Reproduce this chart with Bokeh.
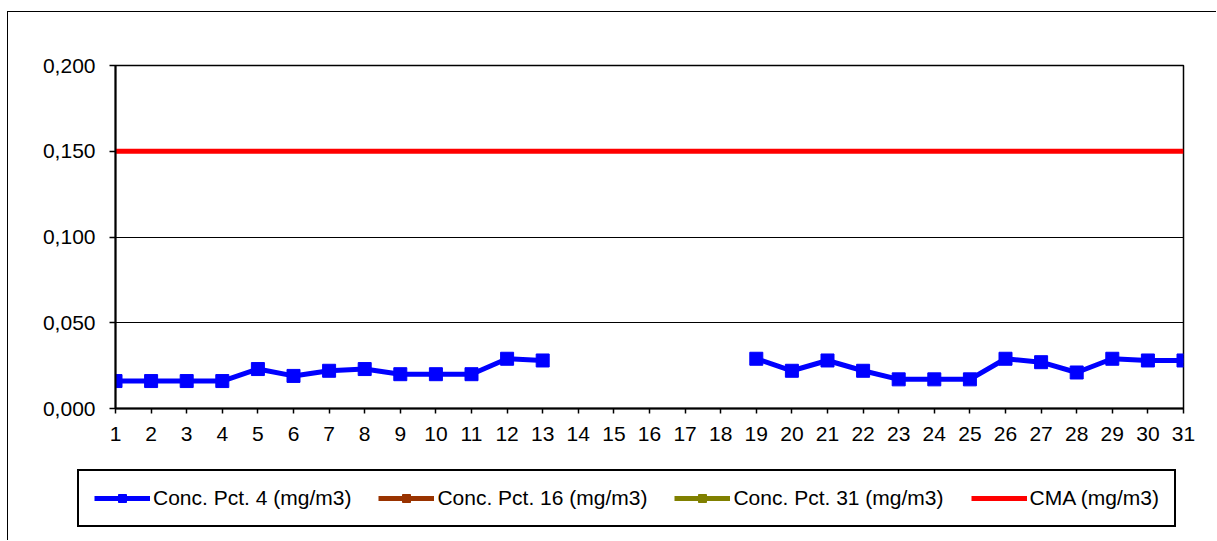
from bokeh.plotting import figure
from bokeh.models import Range1d, FixedTicker, CustomJSTickFormatter, Legend, LegendItem
from bokeh.embed import file_html
from bokeh.resources import INLINE

days = list(range(1, 32))
nan = float("nan")
conc_pct4 = [0.016, 0.016, 0.016, 0.016, 0.023, 0.019, 0.022, 0.023, 0.020, 0.020, 0.020,
             0.029, 0.028, nan, nan, nan, nan, nan, 0.029, 0.022, 0.028, 0.022, 0.017,
             0.017, 0.017, 0.029, 0.027, 0.021, 0.029, 0.028, 0.028]
conc_pct16 = [nan] * 31
conc_pct31 = [nan] * 31
cma = [0.150] * 31
y_ticks = [0.0, 0.05, 0.10, 0.15, 0.20]

FONT = "Liberation Sans"
BLUE, BROWN, OLIVE, RED = "#0000ff", "#993300", "#808000", "#ff0000"

# ---- main chart ----
p = figure(width=1209, height=440, output_backend="svg", toolbar_location=None,
           x_range=Range1d(1, 31), y_range=Range1d(0, 0.2),
           min_border_left=107, min_border_top=53, min_border_right=34, min_border_bottom=44)
p.styles = {"margin-left": "7px", "margin-top": "11px",
            "border-left": "1px solid #000", "border-top": "1px solid #000"}
p.background_fill_color = "white"
p.border_fill_color = "white"
p.outline_line_color = "black"
p.outline_line_width = 1.5

p.xgrid.visible = False
p.ygrid.grid_line_color = "black"
p.ygrid.grid_line_width = 1
p.ygrid.ticker = FixedTicker(ticks=y_ticks)

p.yaxis.ticker = FixedTicker(ticks=y_ticks)
p.yaxis.formatter = CustomJSTickFormatter(code="return tick.toFixed(3).replace('.', ',');")
p.xaxis.ticker = FixedTicker(ticks=days)
for ax in (p.xaxis[0], p.yaxis[0]):
    ax.axis_line_color = "black"
    ax.axis_line_width = 2
    ax.major_tick_line_color = "black"
    ax.major_tick_line_width = 1.5
    ax.major_tick_in = 0
    ax.minor_tick_line_color = None
    ax.major_label_text_font = FONT
    ax.major_label_text_font_size = "21px"
    ax.major_label_text_color = "black"
p.yaxis.major_tick_out = 6
p.yaxis.major_label_standoff = 14
p.xaxis.major_tick_out = 5
p.xaxis.major_label_standoff = 13

p.line(days, cma, line_color=RED, line_width=5)
p.line(days, conc_pct4, line_color=BLUE, line_width=5)
p.scatter(days, conc_pct4, marker="square", size=13, fill_color=BLUE, line_color=BLUE)
p.line(days, conc_pct16, line_color=BROWN, line_width=5)
p.line(days, conc_pct31, line_color=OLIVE, line_width=5)

# ---- legend strip (same series, drawn outside its visible range) ----
pl = figure(width=1209, height=89, output_backend="svg", toolbar_location=None,
            x_range=Range1d(100, 101), y_range=Range1d(100, 101),
            min_border=0)
pl.styles = {"margin-left": "7px", "border-left": "1px solid #000"}
pl.axis.visible = False
pl.grid.visible = False
pl.outline_line_color = None
pl.background_fill_color = "white"
pl.border_fill_color = "white"
l4 = pl.line(days, conc_pct4, line_color=BLUE, line_width=5)
m4 = pl.scatter(days, conc_pct4, marker="square", fill_color=BLUE, line_color=BLUE)
l16 = pl.line(days, conc_pct16, line_color=BROWN, line_width=5)
m16 = pl.scatter(days, conc_pct16, marker="square", fill_color=BROWN, line_color=BROWN)
l31 = pl.line(days, conc_pct31, line_color=OLIVE, line_width=5)
m31 = pl.scatter(days, conc_pct31, marker="square", fill_color=OLIVE, line_color=OLIVE)
lc = pl.line(days, cma, line_color=RED, line_width=5)

legend = Legend(items=[
    LegendItem(label="Conc. Pct. 4 (mg/m3)", renderers=[l4, m4]),
    LegendItem(label="Conc. Pct. 16 (mg/m3)", renderers=[l16, m16]),
    LegendItem(label="Conc. Pct. 31 (mg/m3)", renderers=[l31, m31]),
    LegendItem(label="CMA (mg/m3)", renderers=[lc]),
], orientation="horizontal", location=(69, 13))
legend.label_text_font = FONT
legend.label_text_font_size = "21px"
legend.label_text_color = "black"
legend.glyph_width = 56
legend.glyph_height = 20
legend.label_standoff = 3
legend.spacing = 27
legend.padding = 15
legend.margin = 0
legend.border_line_color = "black"
legend.border_line_alpha = 1
legend.border_line_width = 2
legend.background_fill_alpha = 1
pl.add_layout(legend, "center")

open("out.html", "w").write(file_html([p, pl], INLINE))
